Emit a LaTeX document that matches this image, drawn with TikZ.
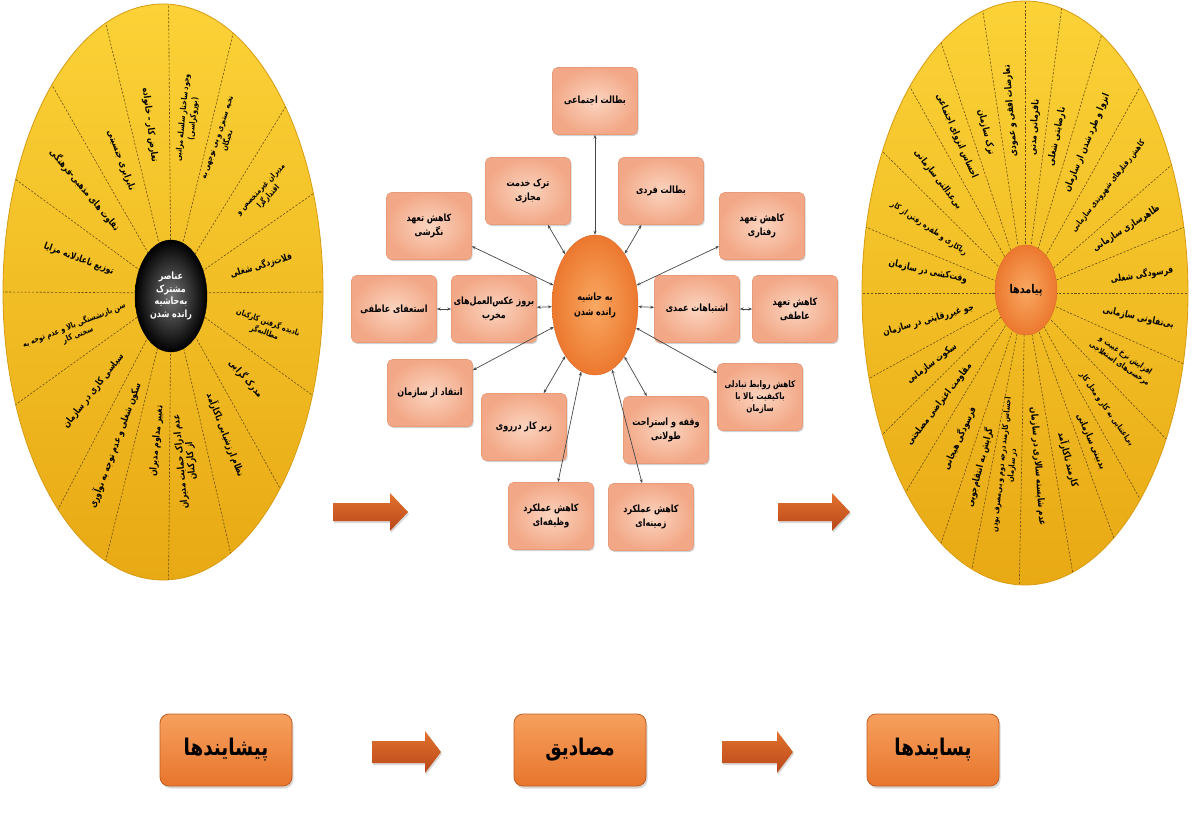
\documentclass[tikz,border=0pt]{standalone}
\usepackage{fontspec}
\usetikzlibrary{shapes.geometric,shadows,arrows.meta}
\TeXXeTstate=1
\newfontfamily\fab[Script=Arabic, FakeStretch=0.8]{DejaVu Sans}
\newcommand\fa[1]{\beginR#1\endR}
\newcommand\fas[1]{\beginR{\fontsize{8}{9.5}\selectfont#1}\endR}
\definecolor{goldT}{HTML}{FBD237}
\definecolor{goldB}{HTML}{E8A914}
\definecolor{goldE}{HTML}{D99B12}
\definecolor{divc}{HTML}{6E500E}
\definecolor{salT}{HTML}{FBD4BF}
\definecolor{salO}{HTML}{F2A887}
\definecolor{salE}{HTML}{E99A78}
\definecolor{orI}{HTML}{F9A862}
\definecolor{orO}{HTML}{EC782E}
\definecolor{orE}{HTML}{D9692A}
\definecolor{arT}{HTML}{E2722E}
\definecolor{arB}{HTML}{B9461A}
\definecolor{bbT}{HTML}{F6A05E}
\definecolor{bbB}{HTML}{E8752C}
\definecolor{bbE}{HTML}{C25E22}
\tikzset{
  lab/.style={font=\fab\bfseries\fontsize{9.5}{10.5}\selectfont, align=center, inner sep=0pt, text=black},
  divider/.style={draw=divc, line width=0.6pt, dash pattern=on 2.2pt off 1.6pt},
  mbox/.style={rectangle, rounded corners=5pt, draw=salE, line width=0.6pt, inner color=salT, outer color=salO,
     minimum width=85pt, minimum height=67pt, align=center, inner sep=2pt,
     font=\fab\bfseries\fontsize{10}{14}\selectfont, drop shadow={shadow xshift=1.2pt, shadow yshift=-1.5pt, opacity=0.35}},
  conn/.style={{Stealth[length=4pt,width=3pt]}-{Stealth[length=4pt,width=3pt]}, line width=0.7pt, draw=black!72},
  bigbox/.style={rectangle, rounded corners=9pt, draw=bbE, line width=0.8pt, top color=bbT, bottom color=bbB,
     minimum width=132pt, minimum height=72pt, font=\fab\bfseries\fontsize{23}{26}\selectfont,
     drop shadow={shadow xshift=1.5pt, shadow yshift=-2.5pt, opacity=0.3}},
  blockarrow/.style={top color=arT, bottom color=arB, drop shadow={shadow xshift=1pt, shadow yshift=-2pt, opacity=0.3}}
}
% #1 cx #2 cy #3 rx #4 ry #5 ix #6 iy #7 prefix #8 list t/f/flag/text
\newcommand\raylabels[8]{%
  \foreach \tA/\fA/\gA/\xT [count=\kk] in {#8} {%
    \pgfmathsetmacro\oX{#1+#3*cos(\tA)}%
    \pgfmathsetmacro\oY{#2-#4*sin(\tA)}%
    \pgfmathsetmacro\vX{\oX-#5}%
    \pgfmathsetmacro\vY{\oY-#6}%
    \pgfmathsetmacro\aR{atan2(-\vY,\vX)-180*\gA}%
    \node[lab, rotate=\aR] (#7-\kk) at ({#5+\fA*\vX},{#6+\fA*\vY}) {\xT};
  }%
}
\newcommand\raydividers[7]{%
  \foreach \tA in {#7} {\draw[divider] (#5,#6) -- ({#1+#3*cos(\tA)},{#2-#4*sin(\tA)});}%
}
\begin{document}
\begin{tikzpicture}[x=1pt,y=-1pt]
\useasboundingbox (0,0) rectangle (1192,816);
\fill[white] (0,0) rectangle (1192,816);

% ---------- left circle: antecedents ----------
\shade[top color=goldT, bottom color=goldB, draw=goldE, line width=0.8pt] (163,292) ellipse [x radius=160pt, y radius=288pt];
\raydividers{163}{292}{160}{288}{171}{293}{180,157,134,111,88,64,40,20,0,-21,-43,-65,-88,-111,-131,-157}
\raylabels{163}{292}{160}{288}{171}{293}{L}{
  168/0.56/1/{\fa{توزیع ناعادلانه مزایا}},
  145/0.62/1/{\fa{تفاوت های مذهبی-فرهنگی}},
  122/0.54/1/{\fa{نابرابری جنسیتی}},
  100/0.59/1/{\fa{تعارض کار – خانواده}},
  77/0.62/0/{\fas{وجود ساختار سلسله مراتبی}\\\fas{(بوروکراسی)}},
  56/0.64/0/{\fas{نخبه ستیزی و بی توجهی به}\\\fas{نخبگان}},
  29/0.71/0/{\fas{مدیران غیرمتخصص و}\\\fas{اقتدارگرا}},
  9/0.60/0/{\fa{فلات‌زدگی شغلی}},
  -11/0.64/0/{\fas{نادیده گرفتن کارکنان}\\\fas{مطالبه‌گر}},
  -31/0.58/0/{\fa{مدرک گرایی}},
  -53/0.62/0/{\fa{نظام ارزشیابی ناکارآمد}},
  -78/0.60/1/{\fa{عدم ادراک حمایت مدیران}\\\fa{از کارکنان}},
  -97/0.52/1/{\fa{تغییر مداوم مدیران}},
  -121/0.62/1/{\fa{سکون شغلی و عدم توجه به نوآوری}},
  -143/0.57/1/{\fa{سیاسی کاری در سازمان}},
  -167/0.58/1/{\fas{سن بازنشستگی بالا و عدم توجه به}\\\fas{سختی کار}}}
\node[ellipse, minimum width=72pt, minimum height=112pt, inner color=black!55, outer color=black, draw=black,
      text=white, align=center, inner sep=0pt, font=\fab\bfseries\fontsize{10}{12.5}\selectfont] (Lc) at (171,296)
      {\fa{عناصر}\\\fa{مشترک}\\\fa{به‌حاشیه}\\\fa{رانده شدن}};

% ---------- right circle: consequences ----------
\shade[top color=goldT, bottom color=goldB, draw=goldE, line width=0.8pt] (1025,293) ellipse [x radius=163pt, y radius=292pt];
\raydividers{1025}{293}{163}{292}{1025}{293}{180,167,151,135,121,105,90,77,62,45,26,13,0,-14,-30,-45,-57,-73,-92,-109,-121,-137,-151,-163}
\raylabels{1025}{293}{163}{292}{1025}{293}{R}{
  173/0.60/1/{\fa{وقت‌کشی در سازمان}},
  159.5/0.63/1/{\fas{ریاکاری و طفره رفتن از کار}},
  144/0.66/1/{\fa{بی‌عدالتی سازمانی}},
  128/0.68/1/{\fa{احساس انزوای اجتماعی}},
  113.5/0.60/1/{\fa{ترک سازمان}},
  98/0.63/0/{\fa{تعارضات افقی و عمودی}},
  84/0.57/0/{\fa{نافرمانی مدنی}},
  70/0.57/0/{\fa{نارضایتی شغلی}},
  53.5/0.64/0/{\fa{انزوا و طرد شدن از سازمان}},
  35.5/0.63/0/{\fas{کاهش رفتارهای شهروندی سازمانی}},
  19.5/0.66/0/{\fa{ظاهرسازی سازمانی}},
  5/0.72/0/{\fa{فرسودگی شغلی}},
  -7/0.70/0/{\fa{بی‌تفاوتی سازمانی}},
  -21/0.64/0/{\fas{افزایش نرخ غیبت و}\\\fas{مرخصی‌های استعلاجی}},
  -38.5/0.64/0/{\fas{بی‌اعتنایی به کار و محل کار}},
  -51.5/0.65/0/{\fa{بدبینی سازمانی}},
  -65/0.63/0/{\fa{کارمند ناکارآمد}},
  -82.5/0.60/0/{\fa{عدم شایسته سالاری در سازمان}},
  -100.5/0.60/1/{\fas{احساس کارمند درجه دوم و بی‌مصرف بودن}\\\fas{در سازمان}},
  -115/0.66/1/{\fa{گرایش به انتقام‌جویی}},
  -129/0.64/1/{\fa{فرسودگی هیجانی}},
  -144/0.65/1/{\fa{مقاومت اعتراضی مصلحتی}},
  -157/0.62/1/{\fa{سکوت سازمانی}},
  -171/0.60/1/{\fa{جو غیررقابتی در سازمان}}}
\node[ellipse, minimum width=62pt, minimum height=90pt, inner color=orI, outer color=orO, draw=orE,
      inner sep=0pt, font=\fab\bfseries\fontsize{12}{14}\selectfont] (Rc) at (1026,290) {\fa{پیامدها}};

% ---------- middle: manifestations ----------
\node[ellipse, minimum width=86pt, minimum height=140pt, inner color=orI, outer color=orO, draw=orE, align=center,
      inner sep=0pt, font=\fab\bfseries\fontsize{10}{15}\selectfont] (c) at (595,305) {\fa{به حاشیه}\\\fa{رانده شدن}};
\node[mbox] (b1) at (595,101) {\fa{بطالت اجتماعی}};
\node[mbox] (b2) at (528,191) {\fa{ترک خدمت}\\\fa{مجازی}};
\node[mbox] (b3) at (661,191) {\fa{بطالت فردی}};
\node[mbox] (b4) at (429,226) {\fa{کاهش تعهد}\\\fa{نگرشی}};
\node[mbox] (b5) at (762,226) {\fa{کاهش تعهد}\\\fa{رفتاری}};
\node[mbox] (b6) at (394,309) {\fa{استعفای عاطفی}};
\node[mbox] (b7) at (494,309) {\fa{بروز عکس‌العمل‌های}\\\fa{مخرب}};
\node[mbox] (b8) at (697,309) {\fa{اشتباهات عمدی}};
\node[mbox] (b9) at (795,309) {\fa{کاهش تعهد}\\\fa{عاطفی}};
\node[mbox] (b10) at (430,393) {\fa{انتقاد از سازمان}};
\node[mbox] (b11) at (524,427) {\fa{زیر کار درروی}};
\node[mbox] (b12) at (666,430) {\fa{وقفه و استراحت}\\\fa{طولانی}};
\node[mbox, font=\fab\bfseries\fontsize{9}{12}\selectfont] (b13) at (760,397) {\fa{کاهش روابط تبادلی}\\\fa{باکیفیت بالا با}\\\fa{سازمان}};
\node[mbox] (b14) at (551,516) {\fa{کاهش عملکرد}\\\fa{وظیفه‌ای}};
\node[mbox] (b15) at (651,517) {\fa{کاهش عملکرد}\\\fa{زمینه‌ای}};
\foreach \b in {b1,b2,b3,b4,b5,b10,b11,b12,b13,b14,b15} {\draw[conn] (c) -- (\b);}
\draw[conn] (b6) -- (b7);
\draw[conn] (b7) -- (c);
\draw[conn] (c) -- (b8);
\draw[conn] (b8) -- (b9);

% big arrows between panels
\shade[blockarrow] (333,503) -- (390,503) -- (390,493) -- (408,512) -- (390,531) -- (390,521) -- (333,521) -- cycle;
\shade[blockarrow] (778,503) -- (832,503) -- (832,493) -- (850,512) -- (832,531) -- (832,521) -- (778,521) -- cycle;

% ---------- bottom row ----------
\node[bigbox] (p1) at (226,750) {\fa{پیشایندها}};
\node[bigbox] (p2) at (580,750) {\fa{مصادیق}};
\node[bigbox] (p3) at (933,750) {\fa{پسایندها}};
\shade[blockarrow] (372,741) -- (425,741) -- (425,731) -- (441,752) -- (425,773) -- (425,763) -- (372,763) -- cycle;
\shade[blockarrow] (722,741) -- (777,741) -- (777,731) -- (793,752) -- (777,773) -- (777,763) -- (722,763) -- cycle;
\end{tikzpicture}
\end{document}
